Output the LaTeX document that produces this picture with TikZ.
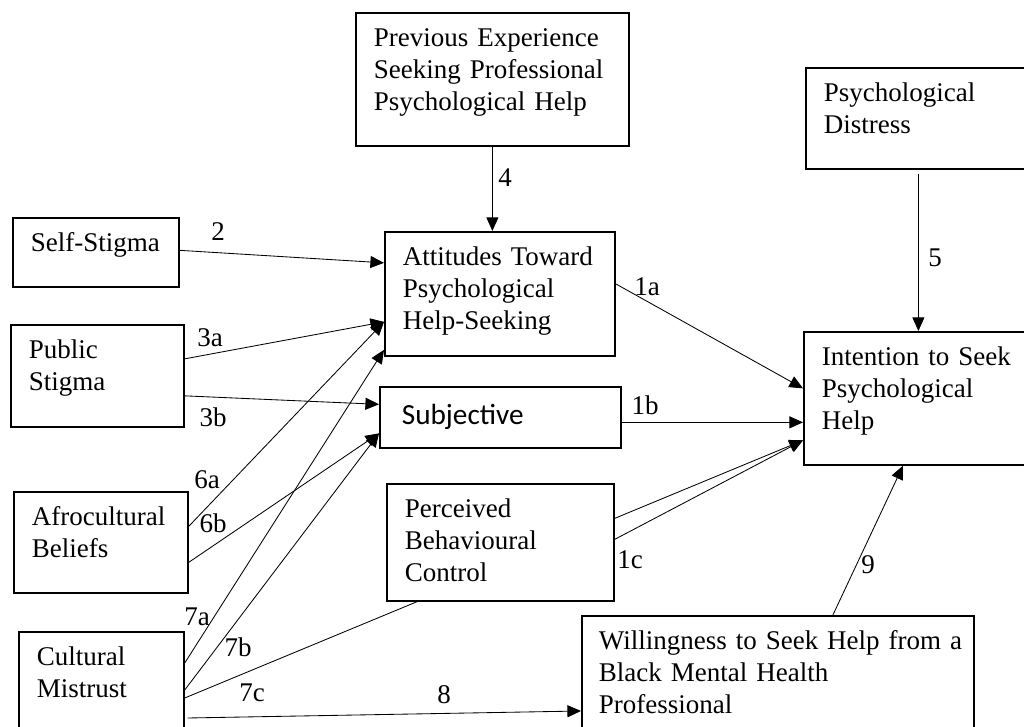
\documentclass[tikz,border=0pt]{standalone}
\usepackage{fontspec}
\setmainfont{Liberation Serif}
\newfontfamily\calibfont{Carlito}
\usetikzlibrary{arrows.meta}

\begin{document}
\begin{tikzpicture}[x=0.025cm, y=0.025cm,
    font=\fontsize{19.2}{22.5}\selectfont,
    boxbase/.style={draw, line width=1.2pt, anchor=north west, align=left,
      inner xsep=0.45cm, inner ysep=0pt},
    construct/.style={boxbase, text height=0.85cm},
    link/.style={line width=0.6pt, -{Triangle[length=0.34cm, width=0.3cm]}},
    coef/.style={inner sep=0pt}
    ]
    \useasboundingbox (0,0) rectangle (1024,727);
    \clip (0,0) rectangle (1024,727);
    \node[construct, text width=5.925cm, text depth=2.475cm] (prev) at (355,715)
      {Previous Experience\\Seeking Professional\\Psychological Help};
    \node[construct, text width=4.725cm, text depth=1.675cm] (dist) at (805,660)
      {Psychological\\Distress};
    \node[construct, text width=3.25cm, text depth=0.875cm] (self) at (12,510) {Self-Stigma};
    \node[construct, text width=4.85cm, text depth=2.25cm] (att) at (384,496)
      {Attitudes Toward\\Psychological\\Help-Seeking};
    \node[construct, text width=3.425cm, text depth=1.7cm] (pub) at (10,403) {Public\\Stigma};
    \node[boxbase, font=\calibfont\fontsize{20.8}{24}\selectfont, inner xsep=0.55cm,
      text width=4.925cm, minimum height=1.525cm] (subj) at (379,341) {Subjective};
    \node[construct, text width=4.775cm, text depth=2.475cm] (int) at (803,396)
      {Intention to Seek\\Psychological\\Help};
    \node[construct, text width=3.45cm, text depth=1.675cm] (afro) at (13,236) {Afrocultural\\Beliefs};
    \node[construct, text width=4.775cm, text depth=2.075cm] (perc) at (386,244)
      {Perceived\\Behavioural\\Control};
    \node[construct, text width=3.225cm, text depth=1.9cm] (cult) at (18,96) {Cultural\\Mistrust};
    \node[construct, inner xsep=0.1cm, text width=9.6cm, text depth=2.15cm] (will) at (581,112)
      {\leftskip=0.325cm Willingness to Seek Help from a\\Black Mental Health\\Professional\par};

    \node[coef] (c1a) at (647,440) {1a};
    \node[coef] (c1b) at (645,322) {1b};
    \node[coef] (c1c) at (630,167) {1c};
    \node[coef] (c2) at (218,495) {2};
    \node[coef] (c3a) at (210,389) {3a};
    \node[coef] (c3b) at (213,310) {3b};
    \node[coef] (c4) at (505,549) {4};
    \node[coef] (c5) at (935,469) {5};
    \node[coef] (c6a) at (207,247) {6a};
    \node[coef] (c6b) at (213,204) {6b};
    \node[coef] (c7a) at (197,110) {7a};
    \node[coef] (c7b) at (238,80) {7b};
    \node[coef] (c7c) at (252,34) {7c};
    \node[coef] (c8) at (444,32) {8};
    \node[coef] (c9) at (868,162) {9};

    \draw[link] (prev.south) to (prev.south |- att.north);
    \draw[link] ([shift={(0,-4)}]dist.south) to (dist.south |- int.north);
    \draw[link] ([shift={(0,2)}]self.east) to ([shift={(0,31)}]att.west);
    \draw[link] ([shift={(0,17)}]pub.east) to ([shift={(0,-28)}]att.west);
    \draw[link] ([shift={(0,-20)}]pub.east) to ([shift={(0,13)}]subj.west);
    \draw[link] ([shift={(0,16)}]afro.east) to ([shift={(0,-28)}]att.west);
    \draw[link] ([shift={(0,-20)}]afro.east) to ([shift={(0,-16)}]subj.west);
    \draw[link] ([shift={(0,-32)}]cult.north east) to ([shift={(0,-56)}]att.west);
    \draw[link] ([shift={(0,-59)}]cult.north east) to ([shift={(0,-16)}]subj.west);
    \draw[line width=0.6pt] ([shift={(0,-67)}]cult.north east) to ([shift={(31,0)}]perc.south west);
    \draw[link] ([shift={(3,-87)}]cult.north east) to ([shift={(0,-96)}]will.north west);
    \draw[link] ([shift={(0,10)}]att.east) to ([shift={(0,10)}]int.west);
    \draw[link] ([shift={(0,-5)}]subj.east) to ([shift={(0,-5)}]subj.east -| int.west);
    \draw[link] ([shift={(0,24)}]perc.east) to ([shift={(0,-42)}]int.west);
    \draw[link] ([shift={(0,3)}]perc.east) to ([shift={(0,-42)}]int.west);
    \draw[link] ([shift={(55,0)}]will.north) to ([shift={(100,0)}]int.south west);
    \end{tikzpicture}
\end{document}
